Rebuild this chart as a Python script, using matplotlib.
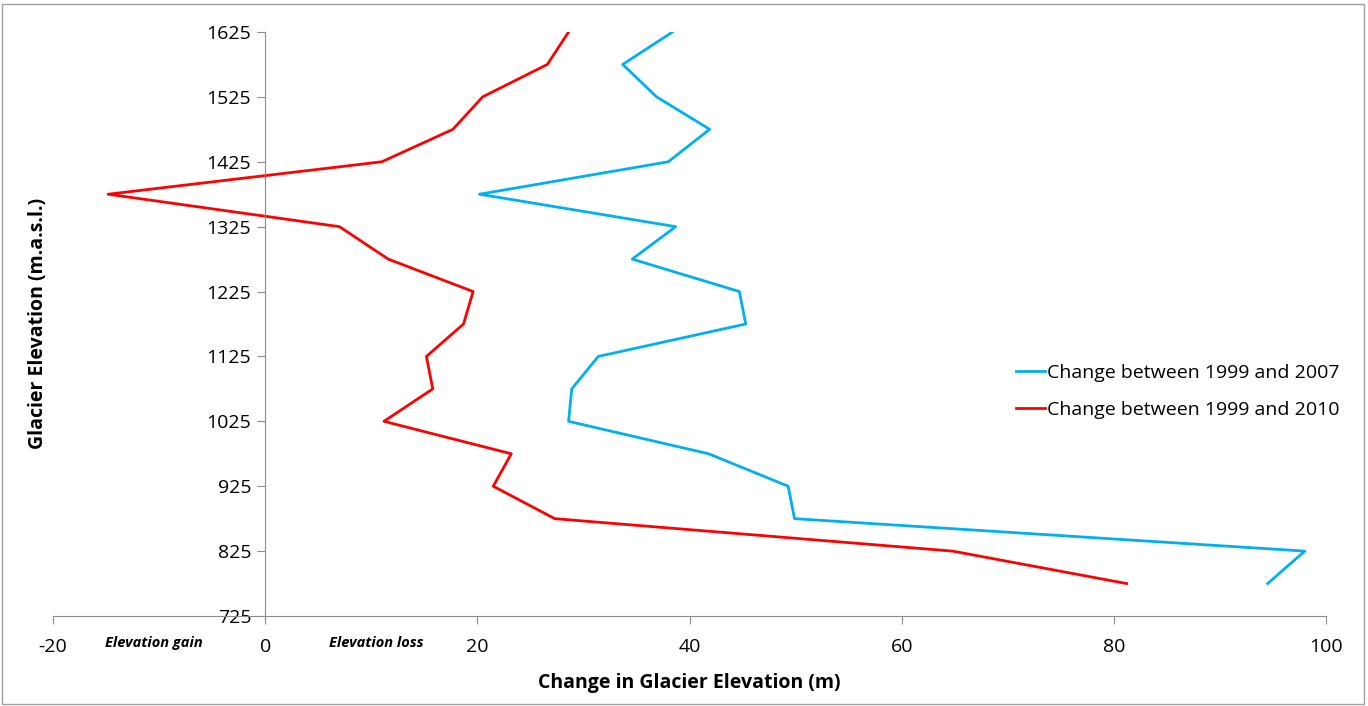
import matplotlib
matplotlib.use("Agg")
import matplotlib.pyplot as plt
from matplotlib.patches import Rectangle

plt.rcParams['font.family'] = ['Open Sans', 'DejaVu Sans']
plt.rcParams['axes.unicode_minus'] = False

# elevation bands (m a.s.l.)
elev = [1625, 1575, 1525, 1475, 1425, 1375, 1325, 1275, 1225, 1175,
        1125, 1075, 1025, 975, 925, 875, 825, 775]
# change between 1999 and 2007 (m)
chg_2007 = [38.4, 33.7, 36.9, 41.9, 38.0, 20.2, 38.7, 34.6, 44.7, 45.3,
            31.4, 28.9, 28.6, 41.8, 49.3, 49.9, 98.0, 94.5]
# change between 1999 and 2010 (m)
chg_2010 = [28.6, 26.6, 20.5, 17.7, 11.0, -14.8, 7.0, 11.6, 19.6, 18.7,
            15.2, 15.8, 11.2, 23.2, 21.5, 27.3, 64.8, 81.2]

yticks = [725, 825, 925, 1025, 1125, 1225, 1325, 1425, 1525, 1625]
xticks = [-20, 0, 20, 40, 60, 80, 100]

fig = plt.figure(figsize=(13.68, 7.06), dpi=100)
ax = fig.add_axes([53/1368, 1-616/706, (1326-53)/1368, (616-32)/706])

ax.plot(chg_2007, elev, color='#00B0F0', lw=2.0, label='Change between 1999 and 2007')
ax.plot(chg_2010, elev, color='#FF0000', lw=2.0, label='Change between 1999 and 2010')

ax.set_xlim(-20, 100)
ax.set_ylim(725, 1625)
ax.set_xticks(xticks)
ax.set_yticks(yticks)

for s in ['top', 'right']:
    ax.spines[s].set_visible(False)
ax.spines['left'].set_position(('data', 0))
ax.spines['left'].set_color('#8c8c8c')
ax.spines['bottom'].set_color('#8c8c8c')
ax.tick_params(axis='both', colors='#8c8c8c', labelcolor='black', labelsize=14,
               direction='out', length=6)
ax.tick_params(axis='x', pad=10)
ax.tick_params(axis='y', pad=4)

ax.set_xlabel('Change in Glacier Elevation (m)', fontsize=14, fontweight='bold', labelpad=12)
fig.text(38/1368, 1-323/706, 'Glacier Elevation (m.a.s.l.)', rotation=90, fontsize=14,
         fontweight='bold', ha='center', va='center')

ax.text(-10.5, 683, 'Elevation gain', fontsize=10.5, fontstyle='italic', fontweight='bold',
        ha='center', va='center')
ax.text(10.5, 683, 'Elevation loss', fontsize=10.5, fontstyle='italic', fontweight='bold',
        ha='center', va='center')

ax.legend(loc='upper left', bbox_to_anchor=(0.749, 0.448), frameon=False, fontsize=14,
          handlelength=1.5, handletextpad=0.1, labelspacing=0.95, borderpad=0)

# outer border
fig.patches.append(Rectangle((2/1368, 2/706), 1362/1368, 700/706, transform=fig.transFigure,
                             fill=False, edgecolor='#a0a0a0', lw=1))

fig.savefig('out.png', dpi=100)
